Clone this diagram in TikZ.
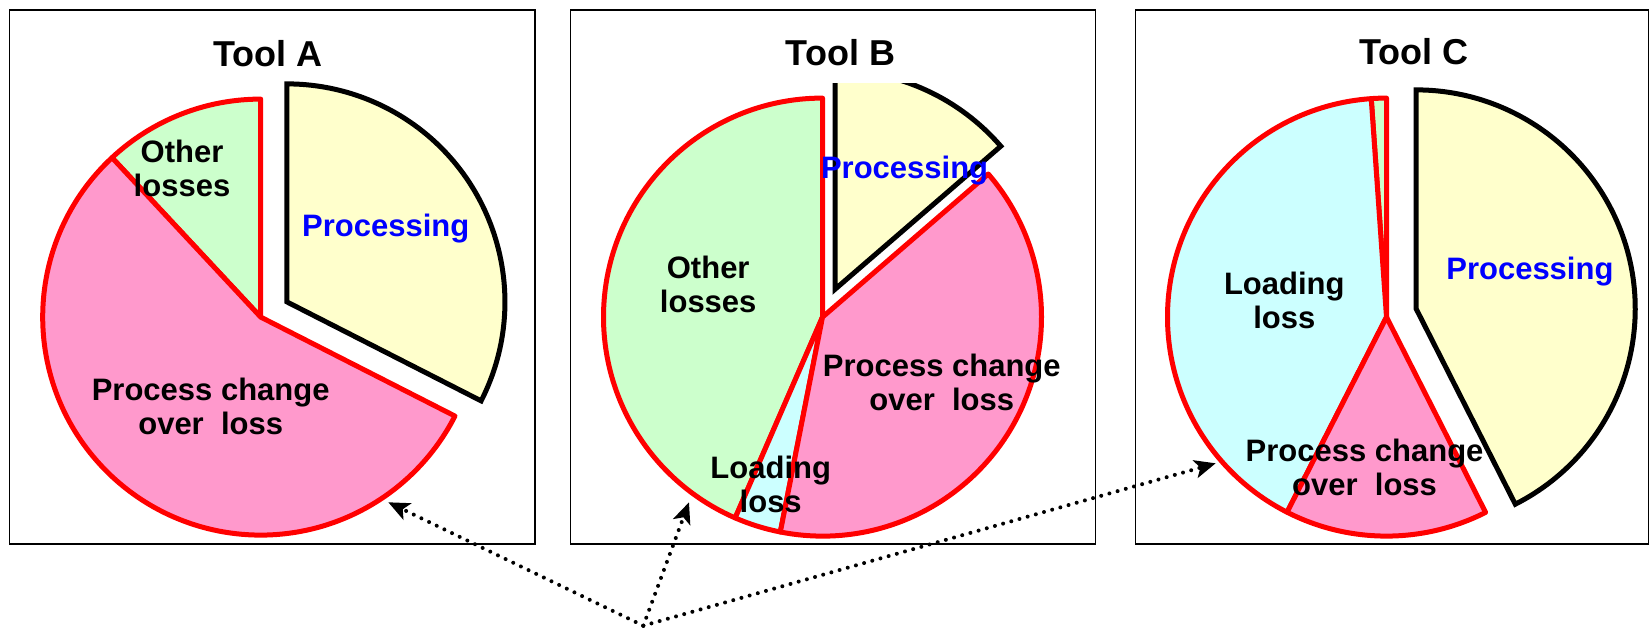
\documentclass[tikz,border=0pt]{standalone}
\usepackage{fontspec}
\setmainfont{Liberation Sans}
\usetikzlibrary{arrows.meta}
\definecolor{pinkfill}{HTML}{FF99CC}
\definecolor{yellowfill}{HTML}{FFFFCC}
\definecolor{greenfill}{HTML}{CCFFCC}
\definecolor{cyanfill}{HTML}{CCFFFF}
\definecolor{pieRed}{HTML}{FF0000}
\definecolor{labelBlue}{HTML}{0000FF}
\newcommand{\pieslice}[5]{\path[#1] (#2) -- ++(#3:#5) arc[start angle=#3, end angle=#4, radius=#5] -- cycle;}
\begin{document}
\begin{tikzpicture}[x=1pt,y=1pt,
  loss/.style={draw=pieRed, line width=5pt, line join=round},
  proc/.style={draw=black, line width=5pt, fill=yellowfill, line join=miter},
  panel/.style={draw=black, line width=1.4pt},
  lbl/.style={font=\fontsize{31}{34}\selectfont\bfseries, align=center, inner sep=0pt},
  ttl/.style={font=\fontsize{36}{40}\selectfont\bfseries, inner sep=0pt},
  pointer/.style={line width=4pt, dash pattern=on 0pt off 8.5pt, line cap=round,
    -{Stealth[length=21pt,width=18pt,inset=5pt]}}
]
\useasboundingbox (0,0) rectangle (1649,628);
\fill[white] (0,0) rectangle (1649,628);

% panels
\draw[panel] (9.6,84) rectangle (535,618);
\draw[panel] (570.7,84) rectangle (1095.7,618);
\draw[panel] (1135.5,84) rectangle (1648.5,618);

% centres
\coordinate (cA) at (260.7,310.9);
\coordinate (yA) at (286.9,326.1);
\coordinate (cB) at (822.5,310.9);
\coordinate (yB) at (835,338.7);
\coordinate (cC) at (1386.5,310.9);
\coordinate (yC) at (1416.2,319.1);

% Tool A
\pieslice{loss,fill=greenfill}{cA}{90}{133}{218pt}
\pieslice{loss,fill=pinkfill}{cA}{133}{333}{218pt}
\pieslice{proc}{yA}{-27}{90}{218pt}

% Tool B
\pieslice{loss,fill=greenfill}{cB}{90}{246.5}{219pt}
\pieslice{loss,fill=cyanfill}{cB}{246.5}{258.9}{219pt}
\pieslice{loss,fill=pinkfill}{cB}{258.9}{400.8}{219pt}
\begin{scope}
\clip (0,0) rectangle (1649,544);
\pieslice{proc}{yB}{40.8}{90}{219pt}
\end{scope}

% Tool C
\pieslice{loss,fill=greenfill}{cC}{90}{94}{219pt}
\pieslice{loss,fill=cyanfill}{cC}{94}{243}{219pt}
\pieslice{loss,fill=pinkfill}{cC}{243}{296.9}{219pt}
\pieslice{proc}{yC}{296.9}{450}{219pt}

% titles
\node[ttl] (tA) at (267.9,574.4) {Tool A};
\node[ttl] (tB) at (840.4,575.1) {Tool B};
\node[ttl] (tC) at (1414.2,576.2) {Tool C};

% labels A
\node[lbl,text=labelBlue] (pA) at (385.7,399.4) {Processing};
\node[lbl] (oA) at (182,459.2) {Other\\losses};
\node[lbl] (kA) at (210.7,221.2) {Process change\\over~~loss};

% labels B
\node[lbl,text=labelBlue] (pB) at (904.6,457.3) {Processing};
\node[lbl] (oB) at (708.2,343.5) {Other\\losses};
\node[lbl] (kB) at (941.8,245.3) {Process change\\over~~loss};
\node[lbl] (lB) at (770.7,144) {Loading\\loss};

% labels C
\node[lbl,text=labelBlue] (pC) at (1529.9,356.6) {Processing};
\node[lbl] (lC) at (1284.3,327.5) {Loading\\loss};
\node[lbl] (kC) at (1364.6,160.3) {Process change\\over~~loss};

% pointers
\coordinate (src) at (643.3,2.3);
\coordinate (arA) at (388.3,125.7);
\coordinate (arB) at (689,125.7);
\coordinate (arC) at (1215.7,164.7);
\draw[pointer] (src) -- (arA);
\draw[pointer] (src) -- (arB);
\draw[pointer] (src) -- (arC);
\end{tikzpicture}
\end{document}
